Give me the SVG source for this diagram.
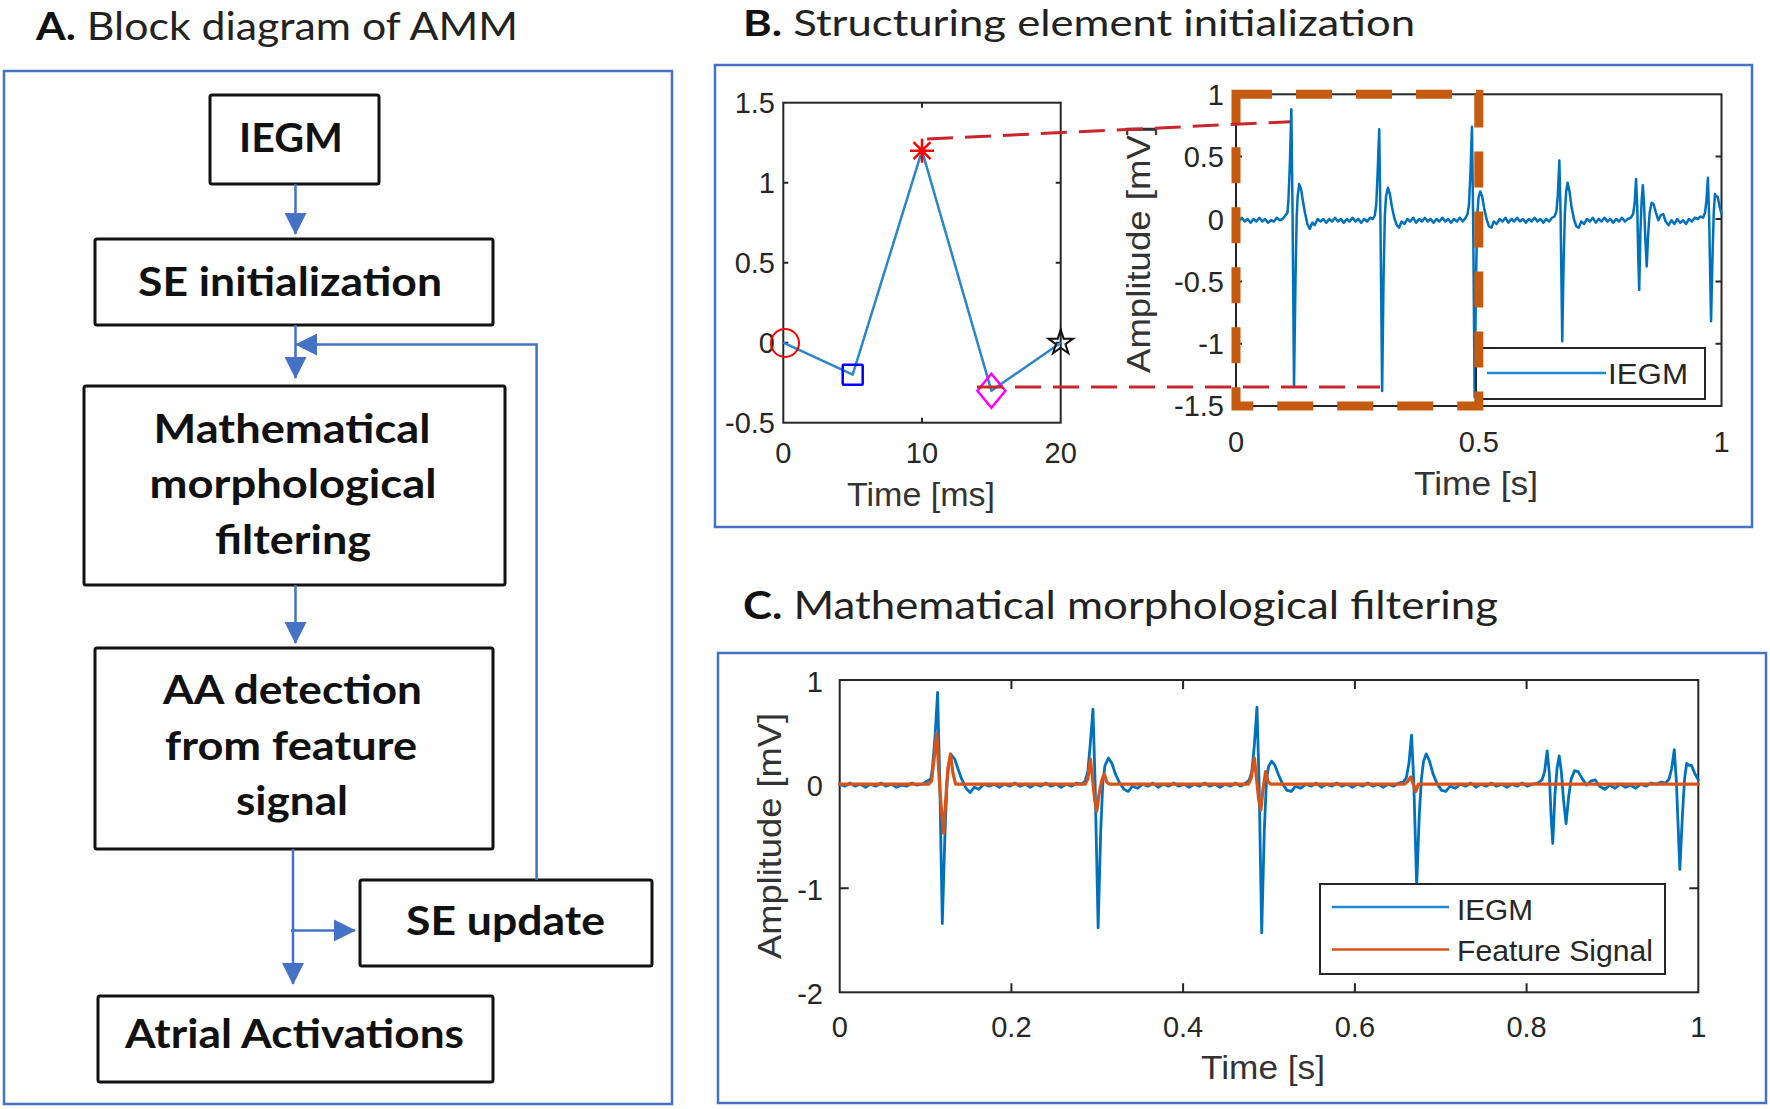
<svg xmlns="http://www.w3.org/2000/svg" xmlns:xlink="http://www.w3.org/1999/xlink" width="1770" height="1109" viewBox="0 0 1770 1109">
<defs>
<style>
.frame{fill:none;stroke:#4472C4;stroke-width:2.5}
.node{fill:#fff;stroke:#111;stroke-width:3}
.nl{font-family:Lato,'Liberation Sans',sans-serif;font-weight:700;font-size:40px;fill:#111;text-anchor:middle}
.title{font-family:Lato,'Liberation Sans',sans-serif;font-size:38px;fill:#222}
.conn{fill:none;stroke:#4472C4;stroke-width:2.5}
.axes{fill:none;stroke:#262626;stroke-width:2}
.tick{fill:none;stroke:#262626;stroke-width:2}
.pt{font-family:'Liberation Sans',Arial,sans-serif;font-size:29px;fill:#262626}
.ptr{text-anchor:end}
.ptm{text-anchor:middle}
.lab{font-family:'Liberation Sans',Arial,sans-serif;font-size:34px;fill:#333;text-anchor:middle}
.leg{fill:#fff;stroke:#262626;stroke-width:2}
.lt{font-family:'Liberation Sans',Arial,sans-serif;font-size:30px;fill:#262626}
.sig{fill:none;stroke-linejoin:round;stroke-linecap:round}
</style>
<marker id="ah" markerUnits="userSpaceOnUse" markerWidth="22" markerHeight="22" viewBox="0 0 22 22" refX="21" refY="11" orient="auto">
<path d="M0,0 L22,11 L0,22 z" fill="#4472C4"/>
</marker>
<path id="iegm" vector-effect="non-scaling-stroke" d="M0 0 L6 -0.02 12 0.01 18 -0.02 24 0 30 -0.03 36 0 42 -0.02 48 0.01 54 -0.02 60 0 66 -0.03 72 -0.01 78 -0.02 84 0.01 90 -0.01 96 0 102 0.03 106 0.05 108 0.15 111 0.45 114 0.88 116.5 0.05 119.5 -1.34 122.5 -0.5 125 0.02 127 0.18 130 0.28 134 0.24 138 0.14 142 0.05 147 -0.04 152 -0.08 157 -0.03 162 -0.05 168 0 174 -0.02 180 0 186 -0.03 192 0 198 -0.02 204 0.01 210 -0.02 216 0 222 -0.03 228 0 234 -0.02 240 0.01 246 -0.02 252 0 258 -0.03 264 0 270 -0.02 276 0.01 282 0 286 0.03 289 0.12 292 0.4 295 0.72 297.5 0 301 -1.38 304 -0.45 306.5 0.02 309 0.18 313 0.25 317 0.2 321 0.1 326 0.01 331 -0.05 336 -0.07 341 -0.02 347 -0.04 353 0 359 -0.02 365 0.01 371 -0.03 377 0 383 -0.02 389 0.01 395 -0.02 401 0 407 -0.03 413 0 419 -0.02 425 0.01 431 -0.02 437 0 443 -0.03 449 0 455 -0.02 461 0.01 467 -0.02 473 0.01 477 0.04 480 0.12 483 0.38 486 0.74 488.5 0 491.5 -1.43 494.5 -0.45 497 0.03 499.5 0.17 503 0.22 507 0.18 511 0.09 516 0 521 -0.06 526 -0.07 531 -0.02 537 -0.04 543 0 549 -0.02 555 0.01 561 -0.03 567 0 573 -0.02 579 0.01 585 -0.02 591 0 597 -0.03 603 0 609 -0.02 615 0.01 621 -0.02 627 0 633 -0.03 639 0 645 -0.02 651 0.01 656 0.02 660 0.06 663 0.2 666 0.47 668.5 0.05 672 -0.98 675 -0.3 677.5 0.05 680 0.22 683 0.29 687 0.22 691 0.1 696 0 701 -0.06 706 -0.07 711 -0.02 717 -0.04 723 0 729 -0.02 735 0.01 741 -0.03 747 0 753 -0.02 759 0.01 765 -0.02 771 0 777 -0.03 783 0 789 -0.02 795 0.01 801 -0.02 807 0 813 0.01 818 0.04 821 0.12 824 0.32 826.5 0.1 828.5 -0.3 830.5 -0.57 833 -0.1 835.5 0.15 838 0.27 840.5 0.12 843 -0.15 846 -0.38 849 -0.12 852 0.05 856 0.13 860 0.12 865 0.05 870 -0.01 875 0.03 880 0.04 885 -0.02 891 -0.05 897 -0.01 903 -0.04 909 0 915 -0.03 921 -0.01 927 -0.04 933 0 939 -0.02 945 0.01 951 0 957 0.02 962 0.01 966 0.05 969 0.15 972 0.33 974.5 0.02 978.5 -0.82 981.5 -0.3 984 0.05 986.5 0.2 989 0.18 992 0.18 996 0.1 1000 0.04"/>
<path id="feat" vector-effect="non-scaling-stroke" d="M0 0 L104 0 107 0.03 110 0.25 113 0.49 115.5 0.1 118 -0.2 121 -0.47 123.5 -0.15 126 0.15 129 0.29 132 0.1 135 0 286 0 289 0.05 292 0.24 294.5 0.05 297 -0.15 299.5 -0.26 302 -0.1 305 0.03 308 0.1 311 0.02 314 0 476 0 479 0.05 483 0.25 485.5 0.05 488 -0.15 490.5 -0.25 493 -0.05 496 0.12 499 0.02 502 0 658 0 662 0.03 665 0.07 668 0 671 -0.07 674 0 1000 0"/>
</defs>

<rect x="0" y="0" width="1770" height="1109" fill="#fff"/>

<!-- Panel A -->
<g id="panelA">
<text class="title" x="36" y="40" textLength="482" lengthAdjust="spacingAndGlyphs"><tspan font-weight="700" fill="#111">A.</tspan> Block diagram of AMM</text>
<rect class="frame" x="4" y="71" width="668" height="1033"/>
</g>

<g id="node-iegm">
<rect class="node" x="210" y="95" width="169" height="89" rx="2"/>
<text class="nl" x="291" y="152" textLength="104" lengthAdjust="spacingAndGlyphs">IEGM</text>
</g>
<g id="node-se-init">
<rect class="node" x="95" y="239" width="398" height="86" rx="2"/>
<text class="nl" x="290" y="296" textLength="304" lengthAdjust="spacingAndGlyphs">SE initialization</text>
</g>
<g id="node-mmf">
<rect class="node" x="84" y="386" width="421" height="199" rx="2"/>
<text class="nl" x="292" y="443" textLength="277" lengthAdjust="spacingAndGlyphs">Mathematical</text>
<text class="nl" x="293" y="498" textLength="287" lengthAdjust="spacingAndGlyphs">morphological</text>
<text class="nl" x="293" y="554" textLength="156" lengthAdjust="spacingAndGlyphs">filtering</text>
</g>
<g id="node-aa">
<rect class="node" x="95" y="648" width="398" height="201" rx="2"/>
<text class="nl" x="292.5" y="704" textLength="259" lengthAdjust="spacingAndGlyphs">AA detection</text>
<text class="nl" x="291" y="760" textLength="252" lengthAdjust="spacingAndGlyphs">from feature</text>
<text class="nl" x="292" y="815" textLength="112" lengthAdjust="spacingAndGlyphs">signal</text>
</g>
<g id="node-se-update">
<rect class="node" x="360" y="880" width="292" height="86" rx="2"/>
<text class="nl" x="505.5" y="935" textLength="199" lengthAdjust="spacingAndGlyphs">SE update</text>
</g>
<g id="node-atrial">
<rect class="node" x="98" y="996" width="395" height="86" rx="2"/>
<text class="nl" x="294.5" y="1048" textLength="339" lengthAdjust="spacingAndGlyphs">Atrial Activations</text>
</g>

<g id="connectors">
<path class="conn" d="M295.5,184 V234" marker-end="url(#ah)"/>
<path class="conn" d="M295.5,325 V378" marker-end="url(#ah)"/>
<path class="conn" d="M536.6,880 V344.6 H296" marker-end="url(#ah)"/>
<path class="conn" d="M295.5,585 V643" marker-end="url(#ah)"/>
<path class="conn" d="M293,849 V984" marker-end="url(#ah)"/>
<path class="conn" d="M291,930.4 H355" marker-end="url(#ah)"/>
</g>

<!-- Panel B -->
<g id="panelB">
<text class="title" x="743" y="36" font-size="36" style="font-size:36px" textLength="672" lengthAdjust="spacingAndGlyphs"><tspan font-weight="700" fill="#111">B.</tspan> Structuring element initialization</text>
<rect class="frame" x="715" y="65" width="1037" height="462"/>

<!-- left SE plot -->
<rect class="axes" x="783.3" y="102.7" width="277.4" height="320"/>
<path class="tick" d="M922,102.7 v5 M922,422.7 v-5 M783.3,182.7 h5 M783.3,262.7 h5 M783.3,342.7 h5 M1060.7,182.7 h-5 M1060.7,262.7 h-5 M1060.7,342.7 h-5"/>
<g class="pt ptr">
<text x="775" y="113">1.5</text>
<text x="775" y="193">1</text>
<text x="775" y="273">0.5</text>
<text x="775" y="353">0</text>
<text x="775" y="433">-0.5</text>
</g>
<g class="pt ptm">
<text x="783.3" y="463">0</text>
<text x="922" y="463">10</text>
<text x="1060.7" y="463">20</text>
</g>
<text class="lab" x="921" y="506" textLength="148" lengthAdjust="spacingAndGlyphs">Time [ms]</text>
<polyline fill="none" stroke="#2A86C8" stroke-width="2.5" stroke-linejoin="round" points="783.3,342.7 852.7,374.7 922,150.7 991.4,390.7 1060.7,342.7"/>
<circle cx="785" cy="343" r="14" fill="none" stroke="#FF0000" stroke-width="2"/>
<rect x="842.7" y="364.7" width="20" height="20" fill="none" stroke="#0000FF" stroke-width="2.5" rx="1"/>
<polygon points="991.4,373.7 1005.4,390.7 991.4,407.7 977.4,390.7" fill="none" stroke="#FF00FF" stroke-width="2.5"/>
<path d="M910,150.7 H934 M922,138.7 V162.7 M913.5,142.2 L930.5,159.2 M913.5,159.2 L930.5,142.2" stroke="#FF0000" stroke-width="2.5" fill="none"/>
<polygon points="1060.7,329.7 1063.64,338.65 1073.06,338.68 1065.46,344.25 1068.34,353.22 1060.7,347.7 1053.06,353.22 1055.94,344.25 1048.34,338.68 1057.76,338.65" fill="none" stroke="#111" stroke-width="2"/>

<!-- right IEGM plot -->
<rect class="axes" x="1236" y="94.3" width="485.5" height="311.7"/>
<path class="tick" d="M1478.8,94.3 v6 M1478.8,406 v-6 M1236,156.6 h6 M1236,219 h6 M1236,281.4 h6 M1236,343.7 h6 M1721.5,156.6 h-6 M1721.5,219 h-6 M1721.5,281.4 h-6 M1721.5,343.7 h-6"/>
<g class="pt ptr">
<text x="1224" y="105">1</text>
<text x="1224" y="167">0.5</text>
<text x="1224" y="229.5">0</text>
<text x="1224" y="292">-0.5</text>
<text x="1224" y="354">-1</text>
<text x="1224" y="416">-1.5</text>
</g>
<g class="pt ptm">
<text x="1236" y="452">0</text>
<text x="1478.8" y="452">0.5</text>
<text x="1721.5" y="452">1</text>
</g>
<text class="lab" x="1476" y="495" textLength="124" lengthAdjust="spacingAndGlyphs">Time [s]</text>
<text class="lab" transform="translate(1150,249) rotate(-90)" textLength="248" lengthAdjust="spacingAndGlyphs">Amplitude [mV]</text>
<use xlink:href="#iegm" href="#iegm" class="sig" stroke="#0072BD" stroke-width="2.5" transform="translate(1236,219) scale(0.4855,-124.7)"/>
<rect class="leg" x="1476" y="348" width="229" height="51"/>
<line x1="1487" y1="373" x2="1606" y2="373" stroke="#1F8AD0" stroke-width="2.5"/>
<text class="lt" x="1608" y="384" textLength="80" lengthAdjust="spacingAndGlyphs">IEGM</text>
<rect x="1236" y="94.3" width="242.8" height="311.7" fill="none" stroke="#C55A11" stroke-width="9" stroke-dasharray="36 24"/>
<path d="M927,139 L1290,121.7 M977,387 L1380,387" fill="none" stroke="#C8262C" stroke-width="3" stroke-dasharray="26 12"/>
</g>

<!-- Panel C -->
<g id="panelC">
<text class="title" x="743" y="619" textLength="755" lengthAdjust="spacingAndGlyphs"><tspan font-weight="700" fill="#111">C.</tspan> Mathematical morphological filtering</text>
<rect class="frame" x="718" y="653" width="1048" height="450"/>
<rect class="axes" x="839.7" y="680" width="858.6" height="312.3"/>
<path class="tick" d="M1011.4,680 v9 M1183.1,680 v9 M1354.9,680 v9 M1526.6,680 v9 M1011.4,992.3 v-9 M1183.1,992.3 v-9 M1354.9,992.3 v-9 M1526.6,992.3 v-9 M839.7,784.1 h9 M839.7,888.2 h9 M1698.3,784.1 h-9 M1698.3,888.2 h-9"/>
<g class="pt ptr">
<text x="823" y="692">1</text>
<text x="823" y="796">0</text>
<text x="823" y="900">-1</text>
<text x="823" y="1004">-2</text>
</g>
<g class="pt ptm">
<text x="839.7" y="1037">0</text>
<text x="1011.4" y="1037">0.2</text>
<text x="1183.1" y="1037">0.4</text>
<text x="1354.9" y="1037">0.6</text>
<text x="1526.6" y="1037">0.8</text>
<text x="1698.3" y="1037">1</text>
</g>
<text class="lab" x="1263" y="1079" textLength="124" lengthAdjust="spacingAndGlyphs">Time [s]</text>
<text class="lab" transform="translate(781,836) rotate(-90)" textLength="246" lengthAdjust="spacingAndGlyphs">Amplitude [mV]</text>
<use xlink:href="#iegm" href="#iegm" class="sig" stroke="#0072BD" stroke-width="2.8" transform="translate(839.7,784.1) scale(0.8586,-104.1)"/>
<use xlink:href="#feat" href="#feat" class="sig" stroke="#D95319" stroke-width="3.2" transform="translate(839.7,784.1) scale(0.8586,-104.1)"/>
<rect class="leg" x="1320" y="884" width="345" height="90"/>
<line x1="1332" y1="907" x2="1449" y2="907" stroke="#1F8AD0" stroke-width="2.5"/>
<line x1="1332" y1="949.4" x2="1449" y2="949.4" stroke="#D95319" stroke-width="2.5"/>
<text class="lt" x="1457" y="920" textLength="76" lengthAdjust="spacingAndGlyphs">IEGM</text>
<text class="lt" x="1457" y="961" textLength="196" lengthAdjust="spacingAndGlyphs">Feature Signal</text>
</g>
</svg>
